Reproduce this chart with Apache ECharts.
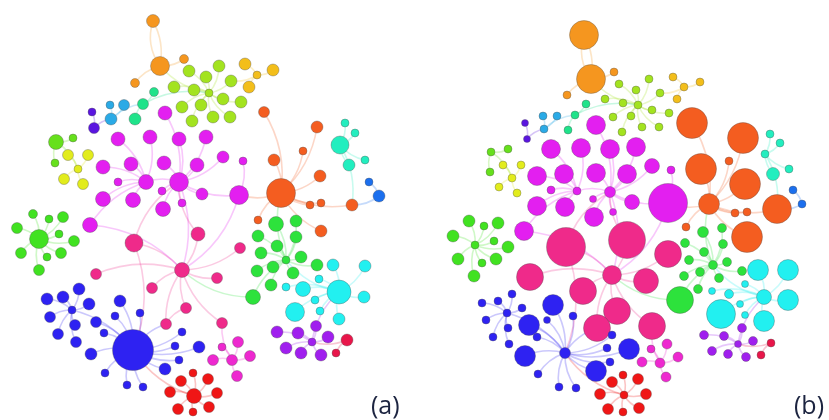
<!DOCTYPE html>
<html>
<head>
<meta charset="utf-8">
<script src="https://cdn.jsdelivr.net/npm/echarts@6/dist/echarts.min.js"></script>
<style>
  html, body { margin: 0; background: #fff; }
  #chart { width: 829px; height: 420px; }
</style>
</head>
<body>
<div id="chart"></div>
<script>
// community colours
const groupColors = [
  '#f5961f', '#a3e31f', '#f3be1a', '#1fe38a', '#2aaae6', '#5a14e0', '#66e01c',
  '#e2ec1c', '#e31ff0', '#ef2a8a', '#f45d20', '#22eebf', '#1b6fee', '#41e221',
  '#2de23c', '#22f0f0', '#a01fee', '#e8164a', '#ee28d0', '#f01616', '#2e22f2'
];

// panel (a): [group, x, y, size]
const nodesA = [
  [0,153,21,12],[0,160,66,18],[0,184,59,8],[0,135,83,8],
  [1,189,71,11],[1,206,77,11],[1,174,87,11],[1,194,90,11],[1,182,107,11],[1,201,105,11],[1,192,121,11],
  [1,219,66,11],[1,231,81,11],[1,209,93,7],[1,223,99,11],[1,241,102,11],[1,213,117,11],[1,230,117,11],
  [2,245,64,11],[2,257,75,7],[2,273,70,11],[2,249,87,11],
  [3,154,92,8],[3,143,104,10],[3,135,119,11],
  [4,124,105,10],[4,110,105,7],[4,111,119,11],
  [5,92,112,7],[5,94,128,10],
  [6,56,142,14],[6,73,138,7],[6,55,163,7],
  [7,68,155,10],[7,88,155,10],[7,78,169,7],[7,64,179,10],[7,83,184,10],
  [8,165,113,13],[8,118,139,13],[8,150,137,13],[8,179,139,13],[8,206,137,13],[8,103,167,13],[8,131,164,13],
  [8,164,163,13],[8,197,165,13],[8,223,157,11],[8,243,161,7],[8,146,182,14],[8,179,182,18],[8,118,182,7],
  [8,162,191,7],[8,202,194,11],[8,239,195,18],[8,182,203,7],[8,103,199,14],[8,133,200,14],[8,163,209,14],[8,90,225,14],
  [9,134,243,17],[9,198,234,13],[9,182,270,14],[9,96,274,10],[9,152,288,10],[9,186,308,10],[9,166,324,10],
  [9,222,323,10],[9,240,248,10],[9,217,278,10],
  [10,264,112,10],[10,317,127,11],[10,303,151,7],[10,274,160,11],[10,320,176,11],[10,281,193,28],
  [10,310,205,7],[10,321,203,7],[10,352,205,11],[10,258,220,7],[10,321,231,11],
  [11,345,123,7],[11,355,133,7],[11,340,145,17],[11,349,165,11],[11,365,160,7],
  [12,369,182,7],[12,379,196,11],
  [13,33,214,8],[13,49,219,7],[13,63,217,10],[13,17,228,10],[13,39,239,18],[13,59,234,7],[13,74,241,10],
  [13,21,253,10],[13,47,257,7],[13,61,253,10],[13,39,270,10],
  [14,276,224,14],[14,296,221,11],[14,258,236,11],[14,296,237,11],[14,277,246,11],[14,261,253,11],[14,301,257,11],
  [14,286,260,7],[14,257,271,11],[14,273,267,11],[14,293,273,11],[14,317,265,11],[14,271,285,11],[14,253,297,14],
  [15,333,265,11],[15,365,266,11],[15,286,287,7],[15,319,279,7],[15,303,289,14],[15,339,292,23],
  [15,364,297,11],[15,315,300,7],[15,295,312,18],[15,320,311,7],[15,339,319,11],
  [16,316,326,10],[16,277,332,11],[16,298,333,11],[16,328,337,11],[16,312,342,7],[16,286,348,11],[16,301,353,11],[16,321,355,11],
  [17,347,340,11],[17,336,353,7],
  [18,238,342,10],[18,222,347,7],[18,213,360,10],[18,232,360,10],[18,250,356,10],[18,237,376,10],
  [19,193,373,7],[19,181,381,10],[19,208,379,10],[19,170,392,10],[19,194,396,14],[19,217,393,10],
  [19,178,409,10],[19,193,412,7],[19,209,407,10],
  [20,79,289,11],[20,63,297,11],[20,47,299,11],[20,89,304,11],[20,72,310,7],[20,50,317,10],[20,75,325,10],
  [20,58,334,10],[20,76,342,10],[20,120,301,11],[20,140,313,7],[20,115,316,7],[20,96,322,10],[20,104,333,7],
  [20,133,350,40],[20,182,332,7],[20,175,346,7],[20,199,347,11],[20,179,360,7],[20,165,369,11],[20,91,354,11],
  [20,105,373,7],[20,127,385,7],[20,143,387,7]
];

// panel (b): same nodes, [x, y, size]
const nodesB = [
  [584,35,28],[591,79,28],[614,72,7],[567,95,7],
  [619,84,7],[636,90,7],[605,99,7],[623,103,7],[613,117,7],[631,116,7],[622,132,7],
  [649,79,7],[660,93,7],[638,105,7],[652,110,7],[669,113,7],[642,127,7],[659,127,7],
  [673,77,7],[684,87,7],[700,82,7],[677,99,7],
  [586,104,7],[575,115,7],[568,130,7],
  [557,116,7],[543,116,7],[544,129,7],
  [525,123,6],[527,139,6],
  [491,152,7],[508,149,7],[490,172,7],
  [503,165,7],[521,165,7],[512,178,7],[499,187,7],[517,193,7],
  [596,125,18],[551,149,18],[581,148,18],[610,149,18],[636,147,18],[537,176,18],[564,174,18],
  [596,173,18],[627,174,18],[652,166,14],[671,170,7],[577,191,7],[610,192,10],[551,190,7],
  [593,199,6],[632,202,14],[668,203,38],[613,212,6],[537,206,18],[565,207,18],[594,217,18],[524,231,18],
  [566,247,38],[627,240,36],[612,275,18],[530,277,26],[583,291,26],[617,311,26],[597,328,26],
  [652,326,26],[668,254,26],[646,281,24],
  [692,123,30],[743,138,30],[729,161,7],[701,169,30],[745,184,30],[709,204,20],
  [735,213,7],[747,212,7],[777,209,28],[686,227,7],[747,237,30],
  [770,134,7],[780,143,7],[765,154,7],[773,174,12],[789,169,7],
  [793,190,7],[802,204,7],
  [469,221,11],[484,226,7],[498,223,11],[453,236,11],[475,245,7],[494,241,7],[508,247,11],
  [458,259,11],[482,263,7],[496,259,11],[474,276,11],
  [703,232,10],[722,228,8],[685,243,8],[723,244,8],[704,252,8],[689,260,8],[727,262,8],
  [713,265,8],[684,276,8],[700,272,8],[719,278,8],[742,271,8],[698,289,8],[680,300,26],
  [758,270,20],[788,270,20],[712,291,6],[745,284,6],[729,294,8],[764,297,14],
  [788,300,20],[740,304,6],[721,314,28],[745,315,6],[764,321,20],
  [742,328,8],[704,335,8],[724,336,8],[753,341,8],[738,344,6],[712,351,8],[728,354,8],[746,357,8],
  [771,343,7],[761,355,7],
  [667,344,9],[651,349,7],[642,362,9],[660,363,9],[678,357,9],[666,377,9],
  [623,375,7],[612,382,10],[638,379,10],[600,394,10],[624,395,7],[646,394,10],
  [608,409,10],[623,412,7],[639,408,10],
  [512,294,7],[498,301,7],[482,303,7],[522,308,7],[507,313,7],[486,320,7],[508,328,7],
  [493,337,7],[509,344,7],[553,305,20],[573,316,7],[547,320,6],[529,325,20],[537,337,7],
  [565,353,10],[612,335,7],[607,348,7],[629,349,20],[610,362,7],[596,371,20],[525,356,20],
  [538,374,7],[559,387,7],[576,388,7]
];

// edge from every node to its parent (-1 = none), shared by both panels
const parents = [
  1,-1,1,1,
  13,13,13,13,13,13,13,13,13,1,13,13,13,13,
  19,12,19,19,
  23,13,23,
  27,27,23,
  29,27,
  35,30,30,
  35,35,-1,35,35,
  50,49,49,50,50,49,49,50,50,50,54,50,62,49,50,50,50,50,49,49,50,49,
  62,62,-1,62,62,62,62,62,62,62,
  75,75,75,75,75,54,75,75,75,75,75,
  83,83,78,83,83,
  87,78,
  92,92,92,92,-1,92,92,92,92,92,92,
  106,106,106,106,106,106,106,75,106,106,106,106,106,106,
  118,118,118,118,118,106,118,118,118,118,118,
  128,128,128,128,118,128,128,128,
  128,132,
  137,137,137,67,137,137,
  144,144,144,144,163,144,144,144,144,
  153,153,153,153,163,153,153,153,153,163,163,163,163,163,66,163,163,163,163,163,163,163,163,163
];
const extraLinks = [[0,1],[60,50],[61,50],[59,62],[112,62],[54,62],[60,163],[66,65]];

const panelLabels = ['(a)', '(b)'];

function buildSeries(prefix, coords) {
  const data = nodesA.map((n, i) => {
    const c = coords[i];
    return {
      name: prefix + i,
      value: [c[0], c[1]],
      symbolSize: c[2] + 1,
      itemStyle: { color: groupColors[n[0]] },
    };
  });
  const links = [];
  parents.forEach((p, i) => {
    if (p >= 0) {
      links.push({
        source: prefix + i,
        target: prefix + p,
        lineStyle: { color: groupColors[nodesA[i][0]] },
      });
    }
  });
  extraLinks.forEach(([s, t], k) => {
    links.push({
      source: prefix + s,
      target: prefix + t,
      lineStyle: { color: groupColors[nodesA[s][0]], curveness: k === 0 ? -0.25 : 0.2 },
    });
  });
  return {
    type: 'graph',
    coordinateSystem: 'cartesian2d',
    xAxisIndex: 0,
    yAxisIndex: 0,
    data,
    links,
    silent: true,
    itemStyle: { borderColor: 'rgba(80,80,80,0.35)', borderWidth: 1 },
    lineStyle: { width: 1.6, opacity: 0.25, curveness: 0.18 },
    label: { show: false },
  };
}

const chart = echarts.init(document.getElementById('chart'));
chart.setOption({
  animation: false,
  backgroundColor: '#fff',
  grid: { left: 0, right: 0, top: 0, bottom: 0 },
  xAxis: { type: 'value', min: 0, max: 829, show: false },
  yAxis: { type: 'value', min: 0, max: 420, inverse: true, show: false },
  graphic: [
    { type: 'text', left: 371, top: 394, style: { text: panelLabels[0], fontSize: 25, fill: '#1c2440', fontFamily: 'Open Sans' } },
    { type: 'text', left: 794, top: 394, style: { text: panelLabels[1], fontSize: 25, fill: '#1c2440', fontFamily: 'Open Sans' } },
  ],
  series: [buildSeries('a', nodesA.map(n => [n[1], n[2], n[3]])), buildSeries('b', nodesB)],
});
</script>
</body>
</html>
